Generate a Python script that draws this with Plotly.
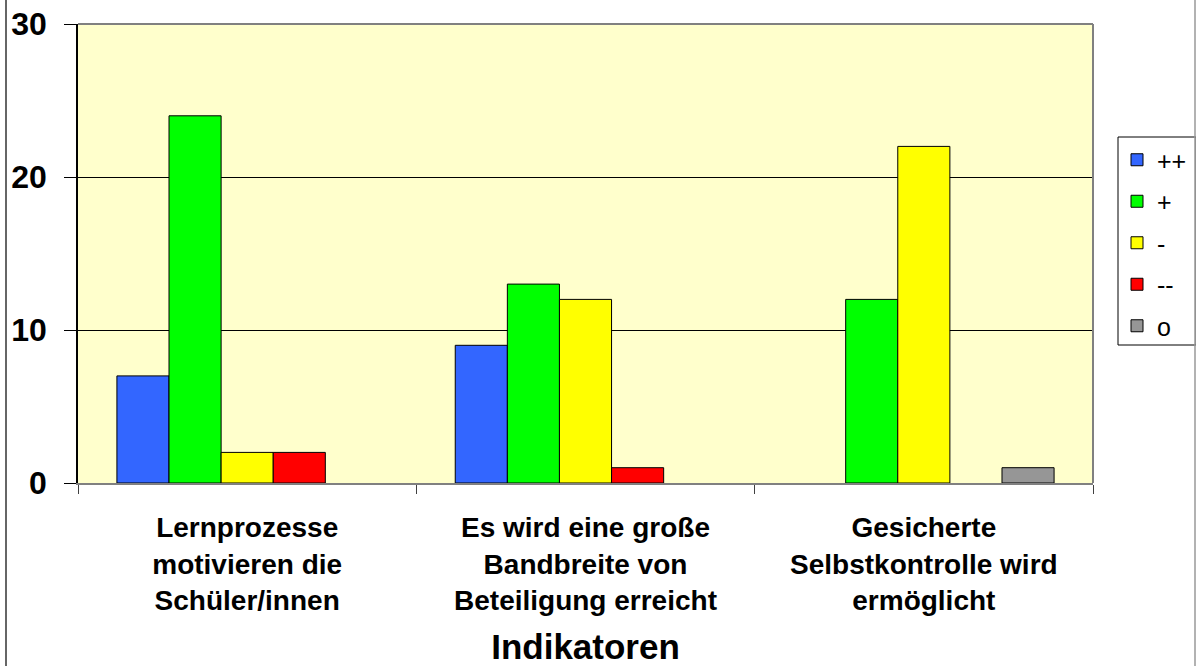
import plotly.graph_objects as go

categories = [
    "Lernprozesse<br>motivieren die<br>Schüler/innen",
    "Es wird eine große<br>Bandbreite von<br>Beteiligung erreicht",
    "Gesicherte<br>Selbstkontrolle wird<br>ermöglicht",
]
series_names = ["++", "+", "-", "--", "o"]
val_pp = [7, 9, 0]
val_p = [24, 13, 12]
val_m = [2, 12, 22]
val_mm = [2, 1, 0]
val_o = [0, 0, 1]
series_values = [val_pp, val_p, val_m, val_mm, val_o]
colors = ["#3366FF", "#00FF00", "#FFFF00", "#FF0000", "#969696"]
y_ticks = [0, 10, 20, 30]

FONT = "Liberation Sans, Arial, sans-serif"

fig = go.Figure()
for name, vals, col in zip(series_names, series_values, colors):
    fig.add_trace(go.Bar(
        x=categories, y=[v if v else None for v in vals], name=name, legendgroup=name,
        marker=dict(color=col, line=dict(color="black", width=1)),
    ))

W, H = 1196, 666
L, R, T, B = 78, 103, 24, 183
pw = W - L - R
ph = H - T - B


def px(x):
    return (x - L) / pw


def py(y):
    return (H - B - y) / ph


fig.update_layout(
    width=W, height=H,
    margin=dict(l=L, r=R, t=T, b=B, pad=0, autoexpand=False),
    paper_bgcolor="white",
    plot_bgcolor="#FFFFCC",
    barmode="group",
    bargap=0.23,
    bargroupgap=0,
    font=dict(family=FONT, color="black"),
    showlegend=True,
    legend=dict(
        x=px(1117), y=py(137), xanchor="left", yanchor="top",
        borderwidth=0, bgcolor="rgba(0,0,0,0)",
        font=dict(size=25, family=FONT, color="black"),
        traceorder="grouped", tracegroupgap=6,
    ),
    xaxis=dict(
        automargin=False,
        showline=True, linecolor="#808080", linewidth=1.5,
        ticks="outside", ticklen=9, tickcolor="#404040", tickwidth=1,
        tickson="boundaries",
        tickfont=dict(size=28, family=FONT, color="black"),
        ticklabelstandoff=19,
        title=dict(text="<b>Indikatoren</b>", font=dict(size=35, family=FONT, color="black"), standoff=21),
    ),
    yaxis=dict(
        automargin=False,
        range=[0, 30], tickvals=y_ticks,
        ticktext=["<b>%d</b>" % v for v in y_ticks],
        showgrid=True, gridcolor="black", gridwidth=1,
        showline=True, linecolor="black", linewidth=1.5,
        ticks="outside", ticklen=12, tickcolor="black",
        tickfont=dict(size=32, family=FONT, color="black"),
        ticklabelstandoff=11,
        zeroline=False,
    ),
)
fig.update_xaxes(tickvals=categories, ticktext=["<b>%s</b>" % c for c in categories])

# plot frame (top & right gray)
fig.add_shape(type="line", xref="paper", yref="paper", x0=0, x1=1, y0=1, y1=1,
              line=dict(color="#808080", width=2))
fig.add_shape(type="line", xref="paper", yref="paper", x0=1, x1=1, y0=0, y1=1,
              line=dict(color="#808080", width=2))
# legend box
fig.add_shape(type="rect", xref="paper", yref="paper",
              x0=px(1118), x1=px(1196), y0=py(345), y1=py(137),
              line=dict(color="black", width=1))
# chart area border lines
fig.add_shape(type="line", xref="paper", yref="paper",
              x0=px(6), x1=px(6), y0=py(H), y1=py(0),
              line=dict(color="#333333", width=1.5))
fig.add_shape(type="line", xref="paper", yref="paper",
              x0=px(1195), x1=px(1195), y0=py(H), y1=py(0),
              line=dict(color="#999999", width=1.5))

fig.write_html("out.html", config={"displayModeBar": False},
               post_script="document.body.style.margin='0';")
